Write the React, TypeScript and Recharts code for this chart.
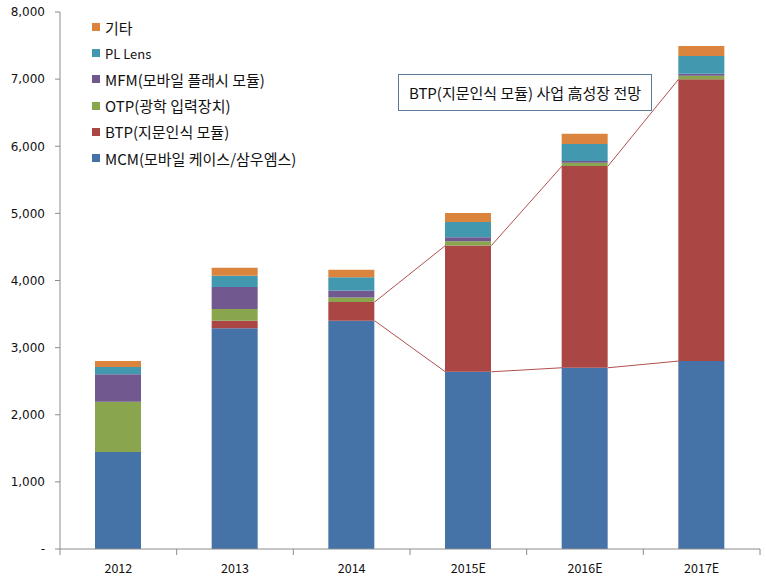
import React from 'react';
import { BarChart, Bar, XAxis, YAxis, Legend, ReferenceLine } from 'recharts';

const categories = ['2012', '2013', '2014', '2015E', '2016E', '2017E'];
const mcm = [1445, 3290, 3400, 2640, 2700, 2800];
const btp = [0, 110, 280, 1880, 3005, 4200];
const otp = [750, 175, 65, 65, 50, 50];
const mfm = [410, 330, 105, 60, 25, 30];
const plLens = [105, 165, 200, 225, 255, 265];
const etc = [90, 120, 110, 135, 150, 150];
const yTicks = [0, 1000, 2000, 3000, 4000, 5000, 6000, 7000, 8000];

const seriesNames = {
  mcm: 'MCM(모바일 케이스/삼우엠스)',
  btp: 'BTP(지문인식 모듈)',
  otp: 'OTP(광학 입력장치)',
  mfm: 'MFM(모바일 플래시 모듈)',
  pl: 'PL Lens',
  etc: '기타',
};
const annotation = 'BTP(지문인식 모듈) 사업 高성장 전망';
const growthFrom = 2; // connector lines from 2014 onward

const data = categories.map((c, i) => ({
  cat: c,
  mcm: mcm[i],
  btp: btp[i],
  otp: otp[i],
  mfm: mfm[i],
  pl: plLens[i],
  etc: etc[i],
}));

const W = 766;
const H = 579;
const MARGIN = { top: 12, right: 6, bottom: 0, left: 0 };
const Y_W = 60;
const BAR = 46;
const BAND = (W - Y_W - MARGIN.right - MARGIN.left) / categories.length;

const COLORS = {
  mcm: '#4572A7',
  btp: '#AA4643',
  otp: '#89A54E',
  mfm: '#71588F',
  pl: '#4198AF',
  etc: '#DB843D',
};
const KR = '"Noto Sans CJK KR", "Noto Sans", sans-serif';
const AXIS = '#8c8c8c';
const LINE = '#B0504E';

const legendOrder = ['etc', 'pl', 'mfm', 'otp', 'btp', 'mcm'];

const LegendContent = () => (
  <div style={{ fontFamily: KR }}>
    {legendOrder.map((k) => (
      <div key={k} style={{ display: 'flex', alignItems: 'center', height: 26.2 }}>
        <span style={{ display: 'inline-block', width: 8, height: 8, background: COLORS[k], marginRight: 5 }} />
        <span style={{ fontSize: k === 'pl' ? 13 : 15, color: '#111', whiteSpace: 'nowrap' }}>{seriesNames[k]}</span>
      </div>
    ))}
  </div>
);

const XTick = (props: any) => {
  const { x, y, payload, index } = props;
  return (
    <g>
      <line x1={x - BAND / 2} y1={y} x2={x - BAND / 2} y2={y + 6} stroke={AXIS} />
      {index === categories.length - 1 && (
        <line x1={x + BAND / 2} y1={y} x2={x + BAND / 2} y2={y + 6} stroke={AXIS} />
      )}
      <text x={x} y={y + 24} textAnchor="middle" fontFamily={KR} fontSize={12.5} fill="#111">
        {payload.value}
      </text>
    </g>
  );
};

const connectorShape = (props: any) => {
  const { x1, y1, x2, y2 } = props;
  if ([x1, y1, x2, y2].some((v) => v == null || isNaN(v))) return null;
  return <line x1={x1 + BAR / 2} y1={y1} x2={x2 - BAR / 2} y2={y2} stroke={LINE} strokeWidth={1} />;
};

const segments: any[] = [];
for (let i = growthFrom; i < categories.length - 1; i++) {
  segments.push([
    { x: categories[i], y: mcm[i] },
    { x: categories[i + 1], y: mcm[i + 1] },
  ]);
  segments.push([
    { x: categories[i], y: mcm[i] + btp[i] },
    { x: categories[i + 1], y: mcm[i + 1] + btp[i + 1] },
  ]);
}

export default function App() {
  return (
    <div style={{ position: 'absolute', left: 0, top: 0, width: W, height: H, background: '#fff' }}>
      <BarChart width={W} height={H} data={data} margin={MARGIN} barSize={BAR}>
        <XAxis
          dataKey="cat"
          axisLine={{ stroke: AXIS }}
          tickLine={false}
          tickSize={0}
          tickMargin={0}
          height={30}
          tick={<XTick />}
          interval={0}
        />
        <YAxis
          domain={[0, 8000]}
          ticks={yTicks}
          width={Y_W}
          axisLine={{ stroke: AXIS }}
          tickLine={{ stroke: AXIS }}
          tickSize={5}
          tickMargin={10}
          tick={{ fontSize: 12, fill: '#111', fontFamily: 'DejaVu Sans' }}
          tickFormatter={(v: number) => (v === 0 ? '-' : v.toLocaleString('en-US'))}
          allowDataOverflow
        />
        <Legend
          content={<LegendContent />}
          layout="vertical"
          verticalAlign="middle"
          align="center"
          wrapperStyle={{ left: 92, top: 14, width: 300 }}
        />
        <Bar dataKey="mcm" stackId="a" fill={COLORS.mcm} isAnimationActive={false} name={seriesNames.mcm} />
        <Bar dataKey="btp" stackId="a" fill={COLORS.btp} isAnimationActive={false} name={seriesNames.btp} />
        <Bar dataKey="otp" stackId="a" fill={COLORS.otp} isAnimationActive={false} name={seriesNames.otp} />
        <Bar dataKey="mfm" stackId="a" fill={COLORS.mfm} isAnimationActive={false} name={seriesNames.mfm} />
        <Bar dataKey="pl" stackId="a" fill={COLORS.pl} isAnimationActive={false} name={seriesNames.pl} />
        <Bar dataKey="etc" stackId="a" fill={COLORS.etc} isAnimationActive={false} name={seriesNames.etc} />
        {segments.map((s, i) => (
          <ReferenceLine key={i} segment={s} shape={connectorShape} ifOverflow="visible" />
        ))}
      </BarChart>
      <div
        style={{
          position: 'absolute',
          left: 398,
          top: 74,
          width: 252,
          height: 35,
          border: '1px solid #5a7a98',
          background: '#fff',
          fontFamily: KR,
          fontSize: 15,
          color: '#111',
          display: 'flex',
          alignItems: 'center',
          justifyContent: 'center',
          whiteSpace: 'nowrap',
        }}
      >
        {annotation}
      </div>
    </div>
  );
}
